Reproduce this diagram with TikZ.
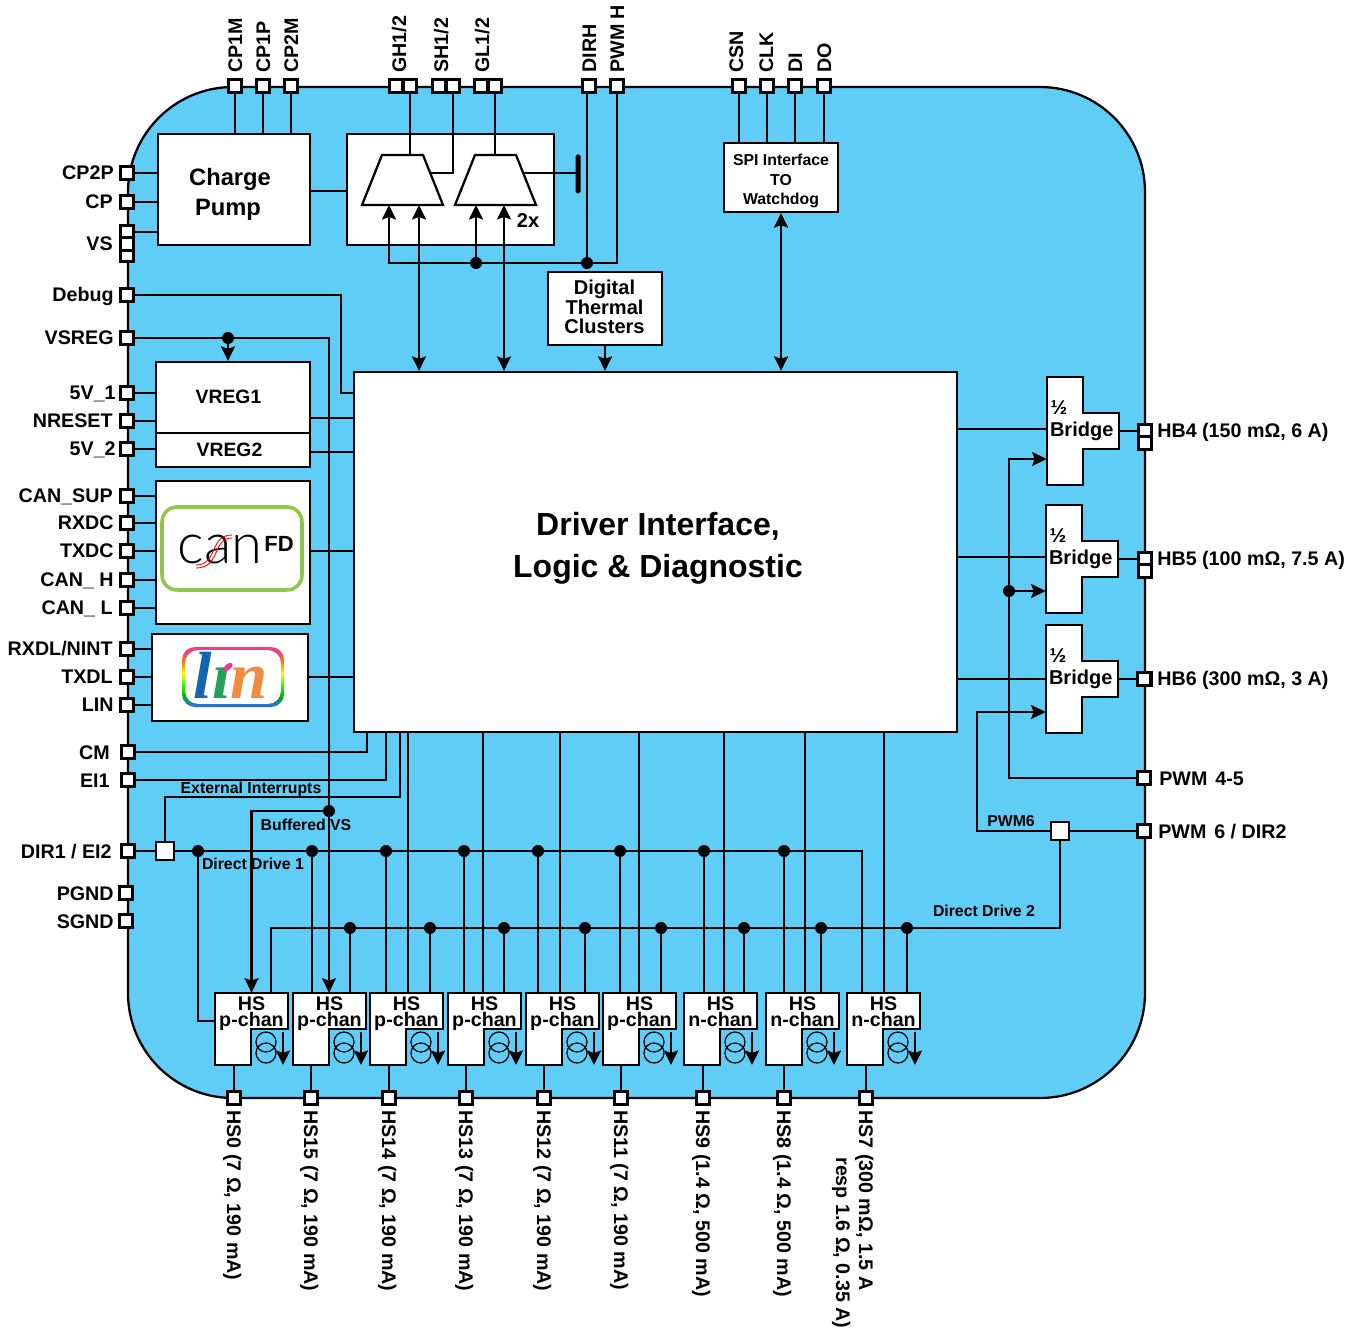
\documentclass[tikz,border=0pt]{standalone}
\usepackage{fontspec}
\setmainfont{Liberation Sans}
\newfontfamily\canfont{Lato Light}
\newfontfamily\linfont{Liberation Serif}
\usetikzlibrary{arrows.meta}
\definecolor{chip}{RGB}{96,205,247}
\definecolor{cangreen}{RGB}{140,200,75}
\definecolor{linpink}{RGB}{240,60,130}
\definecolor{linblue}{RGB}{45,105,235}
\definecolor{linl}{RGB}{20,100,175}
\definecolor{lini}{RGB}{35,160,90}
\definecolor{linn}{RGB}{240,140,65}
\pgfdeclareverticalshading{linbow}{100bp}{color(0bp)=(linblue); color(26bp)=(linblue);
  color(34bp)=(green!70!black); color(44bp)=(green!80!yellow); color(53bp)=(yellow); color(62bp)=(orange); color(71bp)=(linpink); color(100bp)=(linpink)}
\tikzset{
  >={Stealth[length=2.9mm,width=2.8mm,inset=.5mm]},
  wh/.style 2 args={minimum width=#1*0.2mm,minimum height=#2*0.2mm},
  chipbody/.style={fill=chip,draw=black,line width=1.3pt,rounded corners=21mm},
  wire/.style={line width=1.3pt},
  block/.style={draw=black,fill=white,line width=1.3pt,inner sep=0pt,align=center},
  padn/.style={draw=black,fill=white,line width=1.3pt,minimum size=2.6mm,inner sep=0pt},
  swsq/.style={draw=black,fill=white,line width=1.3pt,minimum size=3.6mm,inner sep=0pt},
  dotn/.style={circle,fill=black,minimum size=2.4mm,inner sep=0pt},
  pintext/.style={font=\fontsize{11.2}{13}\selectfont\bfseries,inner sep=0pt},
  smalltext/.style={font=\fontsize{9}{11}\selectfont\bfseries,inner sep=0pt},
  hstext/.style={font=\fontsize{11.2}{9}\selectfont\bfseries,inner sep=0pt,align=center,wh={73}{42}},
  bigtext/.style={font=\fontsize{18.2}{24}\selectfont\bfseries,inner sep=0pt,align=center},
  boxtext/.style={inner sep=0pt,align=center},
}
\begin{document}
\begin{tikzpicture}[x=0.2mm,y=-0.2mm]
  \useasboundingbox (0,0) rectangle (1361,1330);
  \draw[chipbody] (128,87) rectangle (1145,1098);
  % free labels
  \node[smalltext] (lext) at (251,789) {External Interrupts};
  \node[smalltext] (lbuf) at (306,825) {Buffered VS};
  \node[smalltext] (ldda) at (253,864) {Direct Drive 1};
  \node[smalltext] (lddb) at (984,911) {Direct Drive 2};
  \node[smalltext] (lpwm) at (1011,821) {PWM6};
  % blocks
  \node[block,wh={152}{111}] (pump) at (234,189.5) {};
  \node[boxtext,font=\fontsize{13.5}{17}\selectfont\bfseries] (pumptext) at (230,194) {Charge\\\hspace*{-.8mm}Pump};
  \node[block,wh={207}{111}] (gate) at (450.5,189.5) {};
  \node[block,wh={114}{73}] (dtc) at (605,308.5) {};
  \node[boxtext,font=\fontsize{11.4}{11}\selectfont\bfseries] (dtctext) at (604.5,307) {Digital\\Thermal\\Clusters};
  \node[block,wh={114}{69}] (spi) at (781,177.5) {};
  \node[boxtext,font=\fontsize{9}{11}\selectfont\bfseries] (spitext) at (781,181) {SPI Interface\\TO\\Watchdog};
  \node[block,wh={154}{71}] (vregone) at (233,397.5) {};
  \node[boxtext,font=\fontsize{11}{12}\selectfont\bfseries] (vregonetext) at (228.5,397) {VREG1};
  \node[block,wh={154}{34}] (vregtwo) at (233,450) {};
  \node[boxtext,font=\fontsize{11}{12}\selectfont\bfseries] (vregtwotext) at (229.5,450) {VREG2};
  \node[block,wh={154}{143}] (canbox) at (233,552.5) {};
  \node[block,wh={156}{87}] (linbox) at (230,677.5) {};
  \node[block,wh={603}{360}] (core) at (655.5,552) {};
  \node[bigtext] (coretext) at (658,548) {Driver Interface,\\Logic \& Diagnostic};
  % CAN FD logo
  \draw[cangreen,line width=2pt,rounded corners=3mm] (162,507) rectangle (302,590);
  \node[inner sep=0pt,font=\fontsize{32}{32}\selectfont\canfont] (cantext) at (220,549) {can};
  \draw[red,line width=.5pt] (196,565) .. controls (218,565) and (209,535) .. (232,535);
  \draw[red,line width=.5pt] (196,568) .. controls (221,568) and (212,538) .. (232,538);
  \node[inner sep=0pt,font=\fontsize{12.5}{13}\selectfont\bfseries] (canfd) at (279,544) {FD};
  % LIN logo
  \shade[even odd rule,shading=linbow,rounded corners=2.6mm] (182,647) rectangle (284,707) (185,650) rectangle (281,704);
  \node[inner sep=0pt,anchor=base,font=\fontsize{38}{38}\selectfont\linfont\bfseries\itshape] (lintext) at (231,699)
    {\textcolor{linl}{l}\textcolor{lini}{ı}\textcolor{linn}{n}};
  \fill[linpink,rotate around={40:(228,667)}] (228,667) ellipse [x radius=5.5,y radius=3];
  % power stage switches
  \draw[block] (362,205) -- (382,155) -- (423,155) -- (443,205) -- cycle;
  \draw[block] (455,205) -- (475,155) -- (516,155) -- (536,205) -- cycle;
  \foreach \n/\x/\y in {tga/410/155,tsa/431/173,tgb/495/155,tsb/523/173,tia/389/205,tib/419/205,tic/476/205,tid/504/205}
    \coordinate (\n) at (\x,\y);
  \node[fill=black,rounded corners=1pt,wh={5}{39},inner sep=0pt] (clamp) at (578,174) {};
  \node[font=\fontsize{11.4}{12}\selectfont\bfseries,inner sep=0pt] (ltwox) at (528,221) {2x};
  % half bridges
  \foreach \x/\y/\n/\py/\cy in {1047/377/bra/431/429,1046/505/brb/559/557,1046/625/brc/679/679}{
    \draw[block] (\x,\y) -- ++(36,0) -- ++(0,36) -- ++(36,0) -- ++(0,36) -- ++(-36,0) -- ++(0,36) -- ++(-36,0) -- cycle;
    \node[font=\fontsize{11.4}{12}\selectfont\bfseries,inner xsep=.6mm,inner ysep=0pt,text width=13.2mm,align=left,minimum height=7.2mm] (\n) at (\x+36,\y+54.5) {Bridge};
    \node[font=\fontsize{11.4}{12}\selectfont\bfseries,inner sep=0pt] (h\n) at (\x+12,\y+31) {½};
    \node[padn] (p\n) at (1145,\py) {};
    \draw[wire] (\n.east |- p\n) -- (p\n);
    \draw[wire] (core.east |- 0,\cy) -- (\n.west |- 0,\cy);
  }
  % left pads
  \foreach \n/\y in {vsa/232,vsc/255}
    \node[padn] (p\n) at (127,\y) {};
  \foreach \n/\x/\lx/\y/\t in {cptwop/127/114/173/CP2P,cpin/127/113/202/CP,vsb/127/113/244/VS,debug/127/114/295/Debug,vsreg/127/114/338/VSREG,
      fiveone/127/116/393/5V\_1,nreset/127/113/421/NRESET,fivetwo/127/116/449/5V\_2,cansup/127/113/496/CAN\_SUP,rxdc/127/114/523/RXDC,
      txdc/127/114/551/TXDC,canh/127/114/580/CAN\_\ H,canl/127/113/608/CAN\_\ L,rxdl/127/113/649/{RXDL/NINT},txdl/127/113/677/TXDL,lin/127/114/705/LIN,
      cm/128/110/752/CM,eione/128/110/780/EI1,dirone/128/112/851/{DIR1 / EI2},pgnd/126/114/893/PGND,sgnd/126/114/921/SGND}{
    \node[padn] (p\n) at (\x,\y) {};
    \node[pintext,anchor=base east] (l\n) at (\lx,\y+7) {\t};
  }
  % top pads
  \foreach \n/\x in {gha/396,sha/439,gla/481}
    \node[padn] (p\n) at (\x,86) {};
  \foreach \n/\x/\lx/\t in {cponem/235/235/CP1M,cponep/263/263/CP1P,cptwom/291/291/CP2M,ghb/410/399/{GH1/2},shb/453/441/{SH1/2},glb/495/482/{GL1/2},
      dirh/589/589/DIRH,pwmh/617/617/PWM\ H,csn/739/736/CSN,clk/767/766/CLK,din/795/795/DI,dout/824/824/DO}{
    \node[padn] (p\n) at (\x,86) {};
    \node[pintext,rotate=90,anchor=base west] (l\n) at (\lx+7,73) {\t};
  }
  % right pads
  \foreach \n/\y in {hbfour/443,hbfive/571}
    \node[padn] (p\n) at (1145,\y) {};
  \foreach \n/\lx/\y/\t in {bra/1157/431/{HB4 (150 mΩ, 6 A)},brb/1157/559/{HB5 (100 mΩ, 7.5 A)},brc/1157/679/{HB6 (300 mΩ, 3 A)},
      pwmf/1159/778/PWM\hspace{.4em}4-5,pwms/1158/831/{PWM\hspace{.4em}6 / DIR2}}
    \node[pintext,anchor=base west] (l\n) at (\lx,\y+7) {\t};
  \node[padn] (ppwmf) at (1144,778) {};
  \node[padn] (ppwms) at (1144,831) {};
  \node[padn] (pbrc) at (1144,679) {};
  % high side channels
  \foreach \x/\n/\c/\p/\t in {215/hszero/p/234/{HS0 (7 Ω, 190 mA)},293/hsfifteen/p/311/{HS15 (7 Ω, 190 mA)},370/hsfourteen/p/389/{HS14 (7 Ω, 190 mA)},
      448/hsthirteen/p/466/{HS13 (7 Ω, 190 mA)},526/hstwelve/p/544/{HS12 (7 Ω, 190 mA)},603/hseleven/p/621/{HS11 (7 Ω, 190 mA)},
      684/hsnine/n/703/{HS9 (1.4 Ω, 500 mA)},766/hseight/n/784/{HS8 (1.4 Ω, 500 mA)},847/hsseven/n/866/{HS7 (300 mΩ, 1.5 A}}{
    \draw[block] (\x,993) -- ++(73,0) -- ++(0,36) -- ++(-37,0) -- ++(0,36) -- ++(-36,0) -- cycle;
    \node[hstext] (\n) at (\x+36.5,1014) {HS\\\c-chan\vphantom{p}};
    \draw[line width=.7pt] (\x+51,1042) circle [radius=2mm] (\x+51,1053) circle [radius=2mm];
    \draw[wire,->] (\x+68,1032) -- (\x+68,1065);
    \node[padn] (p\n) at (\p,1098) {};
    \draw[wire] (p\n) -- (p\n |- 0,1065);
    \node[pintext,rotate=-90,anchor=base west] (l\n) at (\p-7,1110) {\t};
  }
  \node[pintext,rotate=-90,anchor=base west] (lhssevenb) at (843-7,1157) {resp 1.6 Ω, 0.35 A)};
  % dots
  \node[dotn] (jgate) at (476,263) {};
  \node[dotn] (jdir) at (587,263) {};
  \node[dotn] (jvs) at (228,338) {};
  \node[dotn] (jbuf) at (329,811) {};
  \node[dotn] (jdda) at (198,851) {};
  \node[dotn] (jddb) at (907,928) {};
  \node[dotn] (jpwm) at (1009,591) {};
  \node[swsq] (dirsq) at (165,851) {};
  \node[swsq] (pwmsq) at (1060,831) {};
  \coordinate (ddaend) at (862,851);
  \coordinate (ddbend) at (271,928);
  \coordinate (hsin) at (215,1021);
  % wires left and top
  \foreach \p/\b in {cptwop/pump,cpin/pump,vsa/pump,fiveone/vregone,nreset/vregone,fivetwo/vregtwo,cansup/canbox,rxdc/canbox,txdc/canbox,canh/canbox,canl/canbox,rxdl/linbox,txdl/linbox,lin/linbox}
    \draw[wire] (p\p) -- (p\p -| \b.west);
  \foreach \p in {cponem,cponep,cptwom}
    \draw[wire] (p\p) -- (p\p |- pump.north);
  \foreach \p in {csn,clk,din,dout}
    \draw[wire] (p\p) -- (p\p |- spi.north);
  \draw[wire] (pump.east |- 0,191) -- (gate.west |- 0,191);
  \draw[wire] (pghb) -- (tga);
  \draw[wire] (pshb) |- (tsa);
  \draw[wire] (pglb) -- (tgb);
  \draw[wire] (tsb) -- (tsb -| clamp.center);
  \draw[wire,->] (ppwmh) |- (tia |- jdir) -- (tia);
  \draw[wire] (jdir |- pdirh.south) -- (jdir);
  \draw[wire,->] (jgate) -- (tic);
  \draw[wire,<->] (tib) -- (tib |- core.north);
  \draw[wire,<->] (tid) -- (tid |- core.north);
  \draw[wire,->] (dtc.south) -- (dtc.south |- core.north);
  \draw[wire,<->] (spi.south) -- (spi.south |- core.north);
  \draw[wire] (pdebug) -- (341,295) -- (341,393) -- (core.west |- 0,393);
  \draw[wire] (vregone.east |- 0,418) -- (core.west |- 0,418);
  \draw[wire] (vregtwo.east |- 0,452) -- (core.west |- 0,452);
  \draw[wire] (canbox.east |- 0,551) -- (core.west |- 0,551);
  \draw[wire] (linbox.east |- 0,677) -- (core.west |- 0,677);
  \draw[wire] (pvsreg) -| (jbuf);
  \draw[wire,->] (jvs) -- (jvs |- vregone.north);
  \draw[wire,->] (jbuf) -- (jbuf |- hsfifteen.north);
  \draw[wire,->] (jbuf) -| (hszero.north);
  \draw[wire] (pcm) -| (core.south -| 367,0);
  \draw[wire] (peione) -| (core.south -| 386,0);
  \draw[wire] (dirsq) |- (400,797) -- (core.south -| 400,0);
  % direct drive buses
  \draw[wire] (pdirone) -- (dirsq);
  \draw[wire] (dirsq) -- (ddaend) -- (ddaend |- hsseven.north);
  \draw[wire] (jdda) |- (hsin);
  \draw[wire] (pwmsq) |- (ddbend) -- (ddbend |- hszero.north);
  \draw[wire] (jddb) -- (jddb |- hsseven.north);
  \foreach \n/\a/\b in {hsfifteen/312/350,hsfourteen/386/430,hsthirteen/464/504,hstwelve/538/585,hseleven/620/661,hsnine/704/744,hseight/784/821}{
    \node[dotn] (ja\a) at (\a,851) {};
    \node[dotn] (jb\b) at (\b,928) {};
    \draw[wire] (ja\a) -- (ja\a |- \n.north);
    \draw[wire] (jb\b) -- (jb\b |- \n.north);
  }
  \foreach \n/\m in {hsfourteen/408,hsthirteen/483,hstwelve/560,hseleven/639,hsnine/724,hseight/805,hsseven/884}
    \draw[wire] (\n.north -| \m,0) -- (core.south -| \m,0);
  % pwm inputs
  \draw[wire] (ppwms) -- (pwmsq);
  \draw[wire,->] (pwmsq) -| (977,712) -- (brc.west |- 0,712);
  \draw[wire,->] (ppwmf) -| (1009,459) -- (bra.west |- 0,459);
  \draw[wire,->] (jpwm) -- (brb.west |- jpwm);
\end{tikzpicture}
\end{document}
